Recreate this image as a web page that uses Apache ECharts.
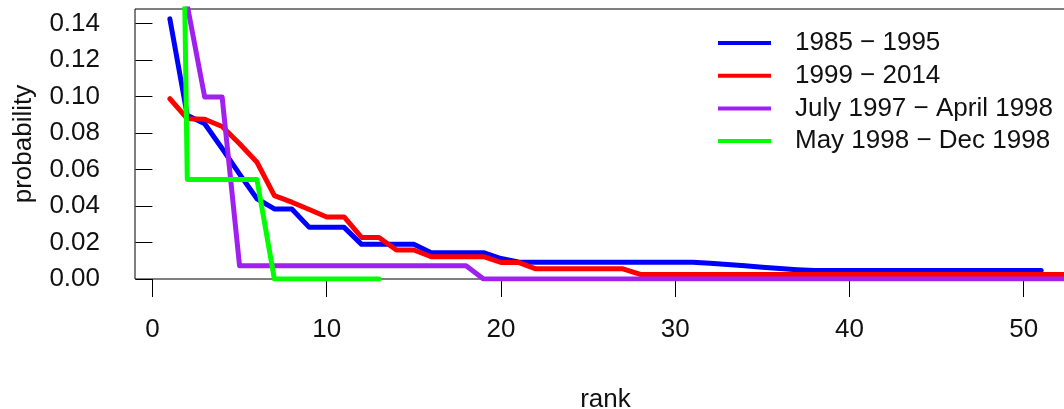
<!DOCTYPE html>
<html>
<head>
<meta charset="utf-8">
<script src="https://cdn.jsdelivr.net/npm/echarts@6/dist/echarts.min.js"></script>
<style>
  html, body { margin: 0; padding: 0; background: #fff; }
  #main { width: 1064px; height: 409px; }
</style>
</head>
<body>
<div id="main"></div>
<script>
// probability by rank (rank = index + 1)
var seriesNames = ['1985 \u2212 1995', '1999 \u2212 2014', 'July 1997 \u2212 April 1998', 'May 1998 \u2212 Dec 1998'];
var seriesColors = ['#0000ff', '#ff0000', '#a020f0', '#00ff00'];

var prob8595 = [0.1426, 0.0897, 0.0851, 0.0715, 0.0575, 0.0440, 0.0384, 0.0384, 0.0283, 0.0283,
                0.0283, 0.0190, 0.0190, 0.0190, 0.0190, 0.0144, 0.0144, 0.0144, 0.0144, 0.0112,
                0.0093, 0.0092, 0.0092, 0.0092, 0.0092, 0.0092, 0.0092, 0.0092, 0.0092, 0.0092,
                0.0092, 0.0086, 0.0079, 0.0072, 0.0065, 0.0058, 0.0051, 0.0046, 0.0046, 0.0046,
                0.0046, 0.0046, 0.0046, 0.0046, 0.0046, 0.0046, 0.0046, 0.0046, 0.0046, 0.0046,
                0.0046];
var prob9914 = [0.0988, 0.0879, 0.0876, 0.0836, 0.0741, 0.0640, 0.0457, 0.0421, 0.0381, 0.0340,
                0.0340, 0.0228, 0.0228, 0.0159, 0.0159, 0.0122, 0.0122, 0.0122, 0.0122, 0.0091,
                0.0091, 0.0056, 0.0056, 0.0056, 0.0056, 0.0056, 0.0056, 0.0025, 0.0025, 0.0025,
                0.0025, 0.0025, 0.0025, 0.0025, 0.0025, 0.0025, 0.0025, 0.0025, 0.0025, 0.0025,
                0.0025, 0.0025, 0.0025, 0.0025, 0.0025, 0.0025, 0.0025, 0.0025, 0.0025, 0.0025,
                0.0025, 0.0025, 0.0025, 0.0025, 0.0025];
var prob9798 = [0.55, 0.15, 0.0997, 0.0997, 0.0073, 0.0073, 0.0073, 0.0073, 0.0073, 0.0073,
                0.0073, 0.0073, 0.0073, 0.0073, 0.0073, 0.0073, 0.0073, 0.0073, 0, 0,
                0, 0, 0, 0, 0, 0, 0, 0, 0, 0,
                0, 0, 0, 0, 0, 0, 0, 0, 0, 0,
                0, 0, 0, 0, 0, 0, 0, 0, 0, 0,
                0, 0, 0, 0, 0];
var prob98 = [0.72, 0.0545, 0.0545, 0.0545, 0.0545, 0.0545, 0, 0, 0, 0,
              0, 0, 0];

var yTicks = [0, 0.02, 0.04, 0.06, 0.08, 0.10, 0.12, 0.14];
var xTicks = [0, 10, 20, 30, 40, 50];

var allProbs = [prob8595, prob9914, prob9798, prob98];
var fontFam = '"Liberation Sans", Arial, sans-serif';

function toPairs(arr) {
    return arr.map(function (v, i) { return [i + 1, v]; });
}

var myChart = echarts.init(document.getElementById('main'), null, { renderer: 'canvas' });

myChart.setOption({
    animation: false,
    backgroundColor: '#ffffff',
    grid: {
        left: 135,
        top: 9,
        width: 941,
        height: 270,
        show: true,
        borderColor: '#000',
        borderWidth: 1,
        containLabel: false,
        outerBoundsMode: 'none'
    },
    legend: {
        orient: 'vertical',
        left: 713,
        top: 25,
        itemWidth: 53,
        itemHeight: 26,
        itemGap: 6.7,
        icon: 'path://M0,0 L53,0 L53,4 L0,4 Z',
        data: seriesNames,
        textStyle: {
            fontFamily: fontFam,
            fontSize: 26,
            color: '#111',
            padding: [0, 0, 0, 19]
        }
    },
    xAxis: {
        type: 'value',
        min: -1,
        max: 53,
        name: 'rank',
        nameLocation: 'middle',
        nameGap: 108,
        nameTextStyle: { fontFamily: fontFam, fontSize: 26, color: '#111' },
        axisLine: { show: false },
        axisTick: {
            show: true,
            inside: false,
            length: 18,
            customValues: xTicks,
            lineStyle: { color: '#000', width: 1 }
        },
        axisLabel: {
            customValues: xTicks,
            margin: 38,
            fontFamily: fontFam,
            fontSize: 26,
            color: '#111'
        },
        splitLine: { show: false }
    },
    yAxis: {
        type: 'value',
        min: 0,
        max: 0.148,
        name: 'probability',
        nameLocation: 'middle',
        nameGap: 98,
        nameTextStyle: { fontFamily: fontFam, fontSize: 26, color: '#111' },
        axisLine: { show: false },
        axisTick: {
            show: true,
            inside: false,
            length: 17,
            customValues: yTicks,
            lineStyle: { color: '#000', width: 1 }
        },
        axisLabel: {
            customValues: yTicks,
            margin: 35,
            fontFamily: fontFam,
            fontSize: 26,
            color: '#111',
            formatter: function (v) { return v.toFixed(2); }
        },
        splitLine: { show: false }
    },
    series: allProbs.map(function (arr, k) {
        return {
            name: seriesNames[k],
            type: 'line',
            symbol: 'none',
            clip: true,
            data: toPairs(arr),
            itemStyle: { color: seriesColors[k] },
            lineStyle: { color: seriesColors[k], width: 5, cap: 'round', join: 'round' }
        };
    })
});
</script>
</body>
</html>
